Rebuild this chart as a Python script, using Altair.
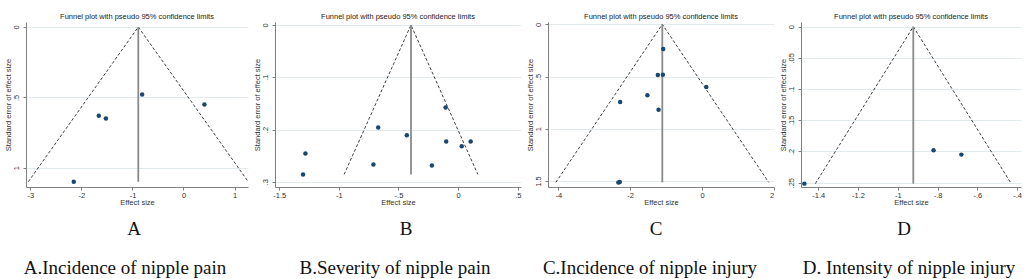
import altair as alt
import pandas as pd

# ---------------- data ----------------
A_es = [-2.15, -1.66, -1.52, -0.81, 0.41]
A_se = [1.10, 0.63, 0.65, 0.48, 0.55]
A_pooled = -0.886

B_es = [-1.28, -1.30, -0.67, -0.71, -0.43, -0.22, -0.105, -0.10, 0.03, 0.105]
B_se = [0.246, 0.286, 0.196, 0.267, 0.211, 0.269, 0.158, 0.223, 0.232, 0.223]
B_pooled = -0.395

C_es = [-1.08, -1.23, -1.09, 0.12, -1.52, -2.28, -1.21, -2.33, -2.29]
C_se = [0.236, 0.485, 0.482, 0.600, 0.680, 0.744, 0.817, 1.513, 1.510]
C_pooled = -1.106

D_es = [-1.47, -0.82, -0.68]
D_se = [0.2515, 0.198, 0.205]
D_pooled = -0.922

A_xticks = [-3, -2, -1, 0, 1]
A_yticks = [0, 0.5, 1]
B_xticks = [-1.5, -1, -0.5, 0, 0.5]
B_yticks = [0, 0.1, 0.2, 0.3]
C_xticks = [-4, -2, 0, 2]
C_yticks = [0, 0.5, 1, 1.5]
D_xticks = [-1.4, -1.2, -1, -0.8, -0.6, -0.4]
D_yticks = [0, 0.05, 0.1, 0.15, 0.2, 0.25]

letters = ["A", "B", "C", "D"]
captions = ["A.Incidence of nipple pain", "B.Severity of nipple pain",
            "C.Incidence of nipple injury", "D. Intensity of nipple injury"]
TITLE = "Funnel plot with pseudo 95% confidence limits"

# ---------------- styling ----------------
SANS = "Liberation Sans"
SERIF = "Liberation Serif"
H = 165
LBL = ("(datum.value < 0 ? '-' : '') + (abs(datum.value) < 1 && datum.value != 0 ? "
       "substring(format(abs(datum.value), '~g'), 1) : format(abs(datum.value), '~g'))")


def panel(es, se, pooled, xdom, ydom, xticks, yticks, w, letter, caption, lx, cx):
    maxse = max(se)
    pts = pd.DataFrame({"es": es, "se": se})
    fun = pd.DataFrame({"es": [pooled - 1.96 * maxse, pooled, pooled + 1.96 * maxse],
                        "se": [maxse, 0.0, maxse], "o": [0, 1, 2]})
    vl = pd.DataFrame({"es": [pooled], "se0": [0.0], "se1": [maxse]})
    xs = alt.Scale(domain=xdom, nice=False, zero=False)
    ys = alt.Scale(domain=ydom, nice=False, zero=False, reverse=True)
    common = dict(labelFont=SANS, labelFontSize=7.5, labelColor="#333",
                  titleFont=SANS, titleFontSize=7.5, titleFontWeight="normal", titleColor="#333",
                  domainColor="#808080", tickColor="#808080", tickSize=3)
    xax = alt.Axis(values=xticks, title="Effect size", grid=False, labelExpr=LBL,
                   labelPadding=1, titlePadding=0, labelAngle=0, **common)
    yax = alt.Axis(values=yticks, title="Standard error of effect size", grid=True,
                   gridColor="#e2eaee", gridWidth=1,
                   labelExpr=LBL, labelPadding=3, labelAngle=270,
                   labelAlign="center", labelBaseline="bottom",
                   minExtent=14, maxExtent=14, titlePadding=0, **common)
    X = alt.X("es:Q", scale=xs, axis=xax)
    funnel = alt.Chart(fun).mark_line(strokeDash=[3, 2], color="#2a2a2a", strokeWidth=0.9).encode(
        x=X, y=alt.Y("se:Q", scale=ys, axis=yax), order="o:Q")
    vline = alt.Chart(vl).mark_rule(color="#8a8a8a", strokeWidth=1.8).encode(
        x=X, y=alt.Y("se0:Q", scale=ys, axis=yax), y2="se1:Q")
    dots = alt.Chart(pts).mark_circle(size=20, color="#1a476f", opacity=1).encode(
        x=X, y=alt.Y("se:Q", scale=ys, axis=yax))
    t1 = alt.Chart(pd.DataFrame({"t": [letter]})).mark_text(
        font=SERIF, fontSize=19, color="#111", baseline="middle", align="center").encode(
        x=alt.value(lx), y=alt.value(207), text="t:N")
    t2 = alt.Chart(pd.DataFrame({"t": [caption]})).mark_text(
        font=SERIF, fontSize=19, color="#111", baseline="middle", align="center").encode(
        x=alt.value(cx), y=alt.value(246), text="t:N")
    return alt.layer(funnel, vline, dots, t1, t2).properties(
        width=w, height=H,
        title=alt.TitleParams(TITLE, fontSize=7.5, font=SANS, fontWeight="normal",
                              offset=2, anchor="middle", color="#222"))


pA = panel(A_es, A_se, A_pooled, [-3.086, 1.264], [-0.0355, 1.137], A_xticks, A_yticks,
           222, letters[0], captions[0], 108, 99)
pB = panel(B_es, B_se, B_pooled, [-1.535, 0.527], [-0.0057, 0.310], B_xticks, B_yticks,
           246, letters[1], captions[1], 131, 120)
pC = panel(C_es, C_se, C_pooled, [-4.29, 2.006], [-0.022, 1.557], C_xticks, C_yticks,
           226, letters[2], captions[2], 108, 102)
pD = panel(D_es, D_se, D_pooled, [-1.487, -0.380], [-0.0075, 0.2569], D_xticks, D_yticks,
           220, letters[3], captions[3], 103, 108)

chart = alt.hconcat(pA, pB, pC, pD, spacing=27, bounds="flush").properties(
    padding={"left": 4, "top": 12, "right": 0, "bottom": 0},
    background="white"
).configure_view(stroke=None)

chart.save("out.html", embed_options={"renderer": "svg", "actions": False})
